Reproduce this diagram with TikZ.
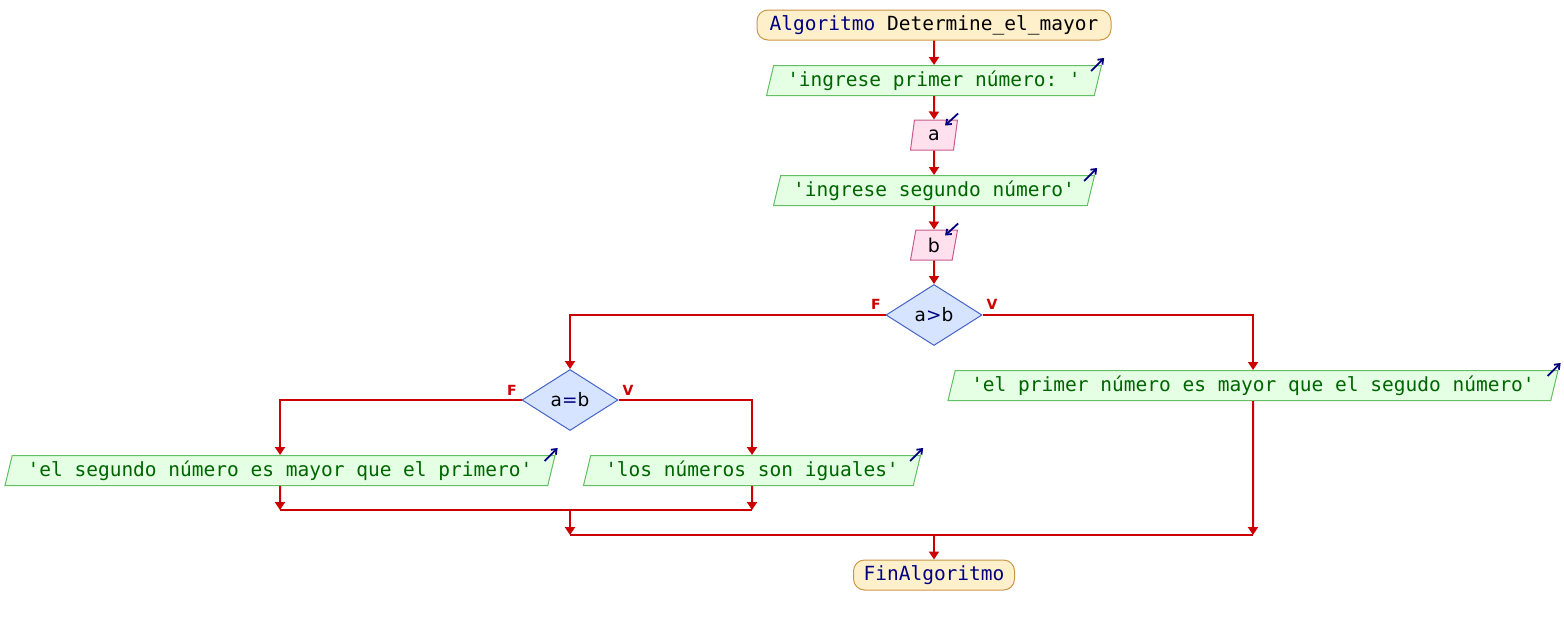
\documentclass[tikz,border=0pt]{standalone}
\usepackage{fontspec}
\setmonofont{DejaVu Sans Mono}
\newfontfamily\sansf{DejaVu Sans}
\usetikzlibrary{shapes.geometric,arrows.meta,calc}
\definecolor{flow}{RGB}{204,0,0}
\definecolor{kw}{RGB}{0,0,128}
\definecolor{strc}{RGB}{0,100,0}
\definecolor{termfill}{RGB}{255,240,204}
\definecolor{termdraw}{RGB}{204,150,70}
\definecolor{outfill}{RGB}{228,255,228}
\definecolor{outdraw}{RGB}{100,190,100}
\definecolor{infill}{RGB}{255,224,236}
\definecolor{indraw}{RGB}{200,90,140}
\definecolor{decfill}{RGB}{214,228,255}
\definecolor{decdraw}{RGB}{70,100,200}
\tikzset{
  mono/.style={font=\ttfamily\fontsize{19.5}{20}\selectfont},
  term/.style={draw=termdraw, fill=termfill, line width=1pt, rectangle, rounded corners=11pt,
    minimum height=30pt, inner sep=0pt, mono, text=kw},
  outbox/.style={draw=outdraw, fill=outfill, line width=1pt, trapezium, trapezium left angle=70,
    trapezium right angle=110, trapezium stretches body=true, minimum height=30pt, inner sep=0pt,
    mono, text=strc},
  inbox/.style={draw=indraw, fill=infill, line width=1pt, trapezium, trapezium left angle=70,
    trapezium right angle=110, trapezium stretches body=true, minimum height=30pt, minimum width=47pt,
    inner sep=0pt, font=\sansf\fontsize{19}{20}\selectfont},
  decbox/.style={draw=decdraw, fill=decfill, line width=1pt, diamond, minimum width=96pt,
    minimum height=61pt, inner sep=0pt, font=\sansf\fontsize{18.5}{20}\selectfont},
  flowline/.style={draw=flow, line width=2pt},
  flowarr/.style={flowline, -{Triangle[length=8pt,width=10pt]}},
  outico/.style={draw=kw, line width=1.8pt, -{Straight Barb[length=4.5pt,width=7pt]}},
  tflab/.style={text=flow, font=\sansf\bfseries\fontsize{14}{14}\selectfont, inner sep=0pt},
}
\begin{document}
\begin{tikzpicture}[x=1pt,y=-1pt]
\useasboundingbox (0,0) rectangle (1564,625);
% nodes
\node[term, minimum width=354pt] (start) at (934,25) {Algoritmo \textcolor{black}{Determine\_el\_mayor}};
\node[outbox, minimum width=335pt] (o1) at (934,80.5) {'ingrese primer número: '};
\node[inbox] (ia) at (934,135) {a};
\node[outbox, minimum width=321pt] (o2) at (934,190.5) {'ingrese segundo número'};
\node[inbox] (ib) at (934,245) {b};
\node[decbox] (d1) at (934,315) {a\textcolor{kw}{>}b};
\node[decbox] (d2) at (570,400) {a\textcolor{kw}{=}b};
\node[outbox, minimum width=610pt] (r) at (1253,385.5) {'el primer número es mayor que el segudo número'};
\node[outbox, minimum width=550pt] (L) at (280,470.5) {'el segundo número es mayor que el primero'};
\node[outbox, minimum width=337pt] (M) at (752,470.5) {'los números son iguales'};
\node[term, minimum width=161pt] (fin) at (934,575) {FinAlgoritmo};
% labels
\node[tflab] (f1) at (876,304) {F};
\node[tflab] (v1) at (992,304) {V};
\node[tflab] (f2) at (512,390) {F};
\node[tflab] (v2) at (628,390) {V};
% join coordinates
\coordinate (jl) at (280,510);
\coordinate (jm) at (752,510);
\coordinate (jc) at (570,510);
\coordinate (kc) at (570,535);
\coordinate (kr) at (1253,535);
\coordinate (kf) at (934,535);
% connectors
\draw[flowarr] (start.south) -- (o1.north);
\draw[flowarr] (o1.south) -- (ia.north);
\draw[flowarr] (ia.south) -- (o2.north);
\draw[flowarr] (o2.south) -- (ib.north);
\draw[flowarr] (ib.south) -- (d1.north);
\draw[flowarr] (d1.west) -| (d2.north);
\draw[flowarr] (d1.east) -| (r.north);
\draw[flowarr] (d2.west) -| (L.north);
\draw[flowarr] (d2.east) -| (M.north);
\draw[flowarr] (L.south) -- (jl);
\draw[flowarr] (M.south) -- (jm);
\draw[flowline] (jl) -- (jm);
\draw[flowarr] (jc) -- (kc);
\draw[flowarr] (r.south) -- (kr);
\draw[flowline] (kc) -- (kr);
\draw[flowarr] (kf) -- (fin.north);
% io icons
\foreach \n in {o1,o2,r,L,M}{
  \draw[outico] ($(\n.top right corner)+(-11,6)$) -- ($(\n.top right corner)+(2,-7)$);
}
\foreach \n in {ia,ib}{
  \draw[outico] ($(\n.top right corner)+(0,-6)$) -- ($(\n.top right corner)+(-13,6)$);
}
\end{tikzpicture}
\end{document}
